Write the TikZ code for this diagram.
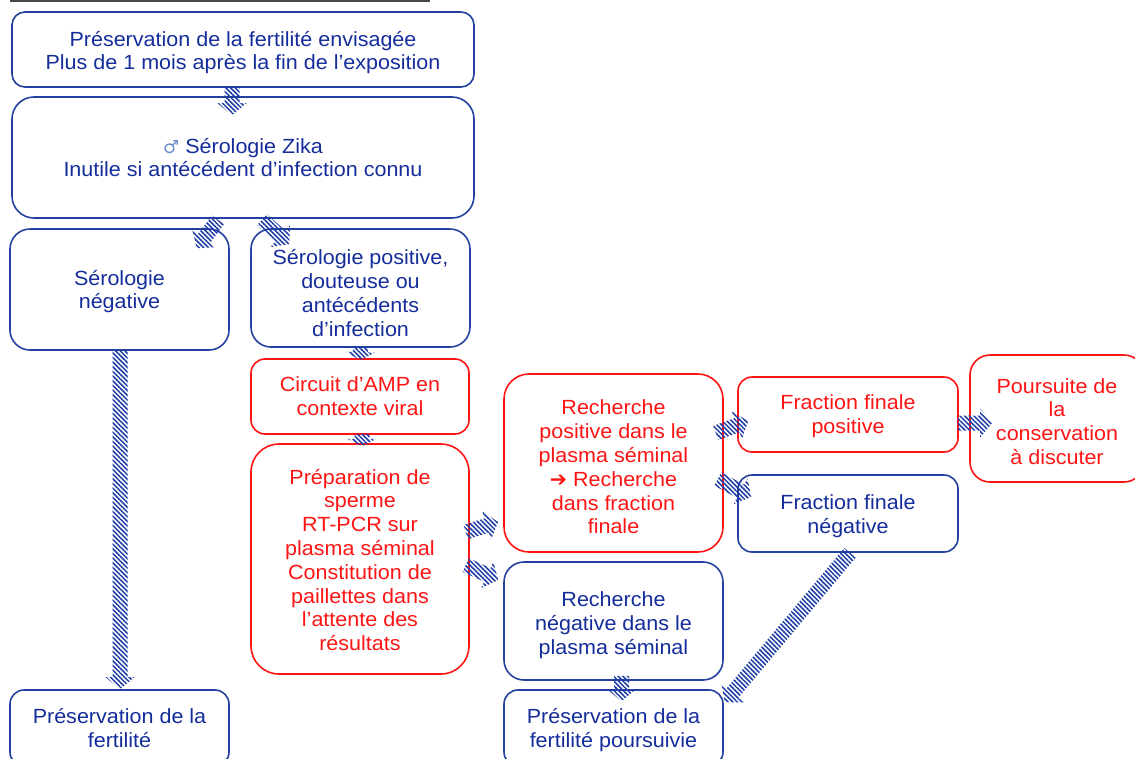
\documentclass[tikz,border=0pt]{standalone}
\usepackage{fontspec}
\setmainfont{Liberation Sans}[FakeStretch=1.05]
\newfontfamily\dejavu{DejaVu Sans}
\usetikzlibrary{calc,patterns.meta}
\definecolor{bblue}{RGB}{35,65,160}
\definecolor{tblue}{RGB}{20,45,155}
\definecolor{rred}{RGB}{255,20,20}
\definecolor{hblue}{RGB}{30,60,165}
\definecolor{lgray}{RGB}{70,70,70}
\definecolor{sblue}{RGB}{110,140,205}
\tikzset{
  hatch/.style={pattern={Lines[angle=-45,distance=3.3pt,line width=1.5pt]},pattern color=hblue},
  bbox/.style={draw=bblue,line width=1.6pt,inner sep=0pt},
  rbox/.style={bbox,draw=rred},
  lb/.style={align=center,inner sep=0pt,font=\fontsize{20.5}{23.8}\selectfont},
  tb/.style 2 args={label={[lb,text=tblue,yshift=#1]center:{#2}}},
  tr/.style 2 args={label={[lb,text=rred,yshift=#1]center:{#2}}}
}
\newcommand\harrow[2]{%
  \fill[hatch] let \p1=(#1), \p2=(#2),
    \n1={atan2(\y2-\y1,\x2-\x1)},
    \n2={veclen(\x2-\x1,\y2-\y1)},
    \n3={min(12,0.6*\n2)},
    \n4={\n2-\n3} in
    ($(\p1)+(\n1+90:7.5pt)$) -- ($(\p1)+(\n1:\n4)+(\n1+90:7.5pt)$)
    -- ($(\p1)+(\n1:\n4)+(\n1+90:14.5pt)$) -- (\p2)
    -- ($(\p1)+(\n1:\n4)+(\n1-90:14.5pt)$) -- ($(\p1)+(\n1:\n4)+(\n1-90:7.5pt)$)
    -- ($(\p1)+(\n1-90:7.5pt)$) -- cycle;
}
\begin{document}
\begin{tikzpicture}[x=1pt,y=-1pt]
\useasboundingbox (0,0) rectangle (1135,758);
\clip (0,0) rectangle (1135,758);
\draw[lgray,line width=2pt] (10,0.8) -- (430,0.8);

\node[bbox,minimum width=462pt,minimum height=75pt,rounded corners=13pt,
  tb={-3pt}{Préservation de la fertilité envisagée\\Plus de 1 mois après la fin de l’exposition}] (b1) at (243,49.5) {};
\node[bbox,minimum width=462pt,minimum height=121pt,rounded corners=22pt,
  tb={0pt}{{\dejavu\fontsize{18}{20}\selectfont\color{sblue}♂} Sérologie Zika\\Inutile si antécédent d’infection connu}] (b2) at (243,157.5) {};
\node[bbox,minimum width=219pt,minimum height=121pt,rounded corners=20pt,
  tb={-2pt}{Sérologie\\négative}] (b3) at (119.5,289.5) {};
\node[bbox,minimum width=219pt,minimum height=118pt,rounded corners=20pt,
  tb={-5pt}{Sérologie positive,\\douteuse ou\\antécédents\\d’infection}] (b4) at (360.5,288) {};
\node[rbox,minimum width=218pt,minimum height=75pt,rounded corners=14pt,
  tr={0pt}{Circuit d’AMP en\\contexte viral}] (b5) at (360,396.5) {};
\node[rbox,minimum width=218pt,minimum height=230pt,rounded corners=28pt,
  tr={-1pt}{Préparation de\\sperme\\RT-PCR sur\\plasma séminal\\Constitution de\\paillettes dans\\l’attente des\\résultats}] (b6) at (360,559) {};
\node[rbox,minimum width=219pt,minimum height=178pt,rounded corners=25pt,
  tr={-4pt}{Recherche\\positive dans le\\plasma séminal\\{\dejavu ➔} Recherche\\dans fraction\\finale}] (b7) at (613.5,463) {};
\node[bbox,minimum width=219pt,minimum height=118pt,rounded corners=20pt,
  tb={-4pt}{Recherche\\négative dans le\\plasma séminal}] (b8) at (613.5,621) {};
\node[bbox,minimum width=219pt,minimum height=76pt,rounded corners=14pt,
  tb={-2pt}{Préservation de la\\fertilité poursuivie}] (b9) at (613.5,728) {};
\node[rbox,minimum width=220pt,minimum height=75pt,rounded corners=14pt,
  tr={-2pt}{Fraction finale\\positive}] (b10) at (848,414.5) {};
\node[bbox,minimum width=220pt,minimum height=77pt,rounded corners=14pt,
  tb={-3pt}{Fraction finale\\négative}] (b11) at (848,513.5) {};
\node[rbox,minimum width=174pt,minimum height=127pt,rounded corners=20pt,
  tr={-3pt}{Poursuite de\\la\\conservation\\à discuter}] (b12) at (1057,418.5) {};
\node[bbox,minimum width=219pt,minimum height=76pt,rounded corners=14pt,
  tb={0pt}{Préservation de la\\fertilité}] (b13) at (119.5,728) {};

\harrow{$(b1.south)+(-11,-1)$}{$(b2.north)+(-11,19)$}
\harrow{$(b2.south)+(-25,1)$}{$(b3.north east)+(-33,20)$}
\harrow{$(b2.south)+(19,1)$}{$(b4.north west)+(39,16)$}
\harrow{$(b3.south)+(0.5,0)$}{$(b13.north)+(0.5,0)$}
\harrow{$(b4.south)+(0,-1)$}{$(b5.north)+(0,2)$}
\harrow{$(b5.south)+(2,-1)$}{$(b6.north)+(2,3)$}
\harrow{$(b6.east)+(-4,-27)$}{$(b7.west)+(-5,59)$}
\harrow{$(b6.east)+(-4,6)$}{$(b8.west)+(-5,-41)$}
\harrow{$(b7.east)+(-8,-30)$}{$(b10.west)+(11,6.5)$}
\harrow{$(b7.east)+(-6,16)$}{$(b11.west)+(14,-16.5)$}
\harrow{$(b10.east)+(-1,8.5)$}{$(b12.west)+(23,4.5)$}
\harrow{$(b8.south)+(8,-5)$}{$(b9.north)+(8,12)$}
\harrow{$(b11.south)+(2,0)$}{$(b9.north east)+(1,13)$}
\end{tikzpicture}
\end{document}
